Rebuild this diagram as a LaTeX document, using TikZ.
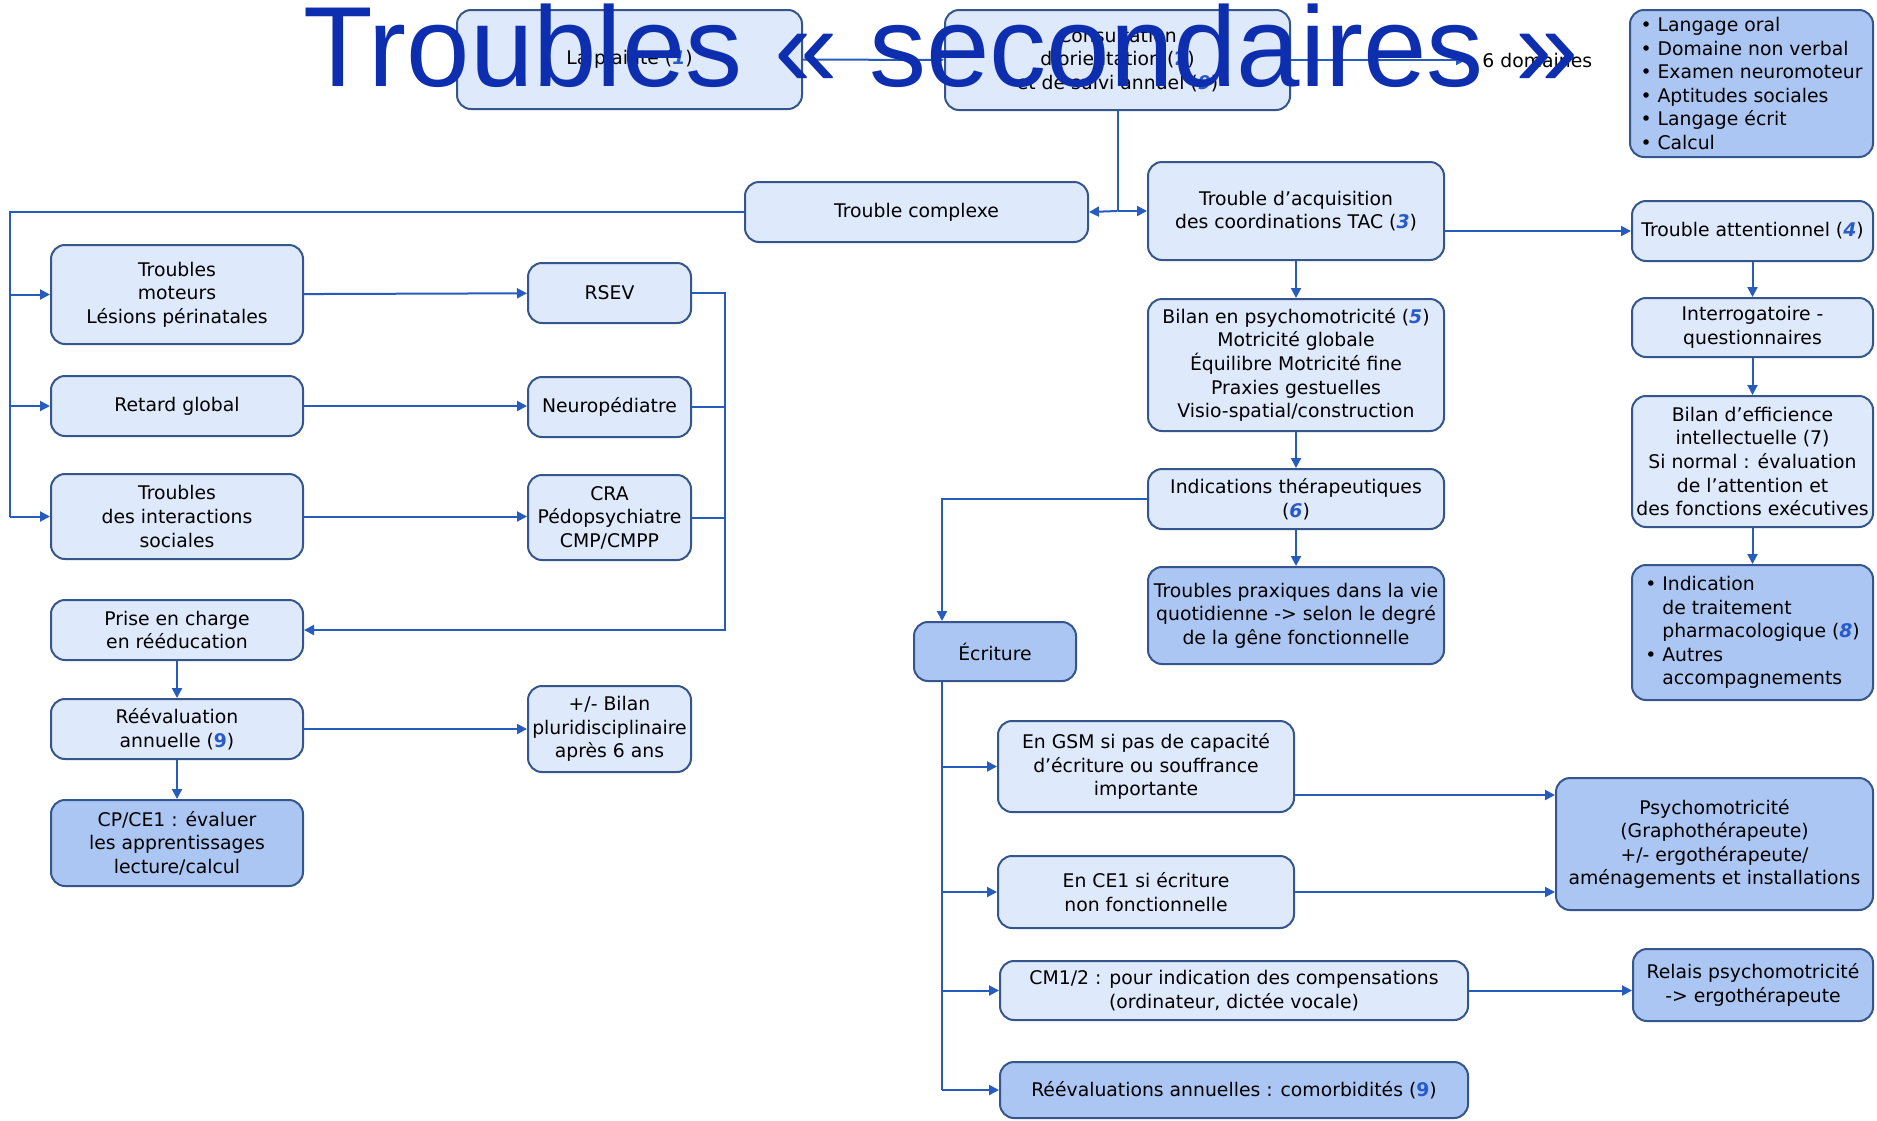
\documentclass[tikz,border=0pt]{standalone}
\usepackage{fontspec}
\setmainfont{DejaVu Sans}
\newfontfamily\titlefont{Liberation Sans}
\usetikzlibrary{arrows.meta}
\definecolor{boxline}{RGB}{52,86,140}
\definecolor{boxlight}{RGB}{222,233,251}
\definecolor{boxdark}{RGB}{171,198,243}
\definecolor{arrowblue}{RGB}{38,92,190}
\definecolor{numblue}{RGB}{40,90,200}
\definecolor{titleblue}{RGB}{14,46,176}
\newcommand{\nb}[1]{{\color{numblue}\bfseries\itshape #1}}
\newcommand{\nbu}[1]{{\color{numblue}\bfseries #1}}
\tikzset{wh/.style 2 args={minimum width=#1pt, minimum height=#2pt}}

\begin{document}
\begin{tikzpicture}[x=0.5pt,y=-0.5pt]
\tikzstyle{every node}+=[inner sep=2pt, font=\fontsize{9.4}{11.8}\selectfont]
\tikzstyle{box}=[draw=boxline, line width=1pt, fill=boxlight, rounded corners=7pt, align=center]
\tikzstyle{dbox}=[box, fill=boxdark]
\tikzstyle{lin}=[draw=arrowblue, line width=1pt]
\tikzstyle{arr}=[lin, -{Triangle[length=5pt,width=5pt]}]
\fill [white] (0,0) rectangle (1877,1120);
\useasboundingbox (0,0) rectangle (1877,1120);
\node [box, wh={172.5}{49.5}] (plainte) at (629.5,59.5) {La plainte (\nb{1})};
\node [box, wh={172.5}{50}] (consult) at (1117.5,60) {Consultation\\d’orientation (\nbu{2})\\et de suivi annuel (\nb{9})};
\node [anchor=west, inner xsep=8pt, inner ysep=0pt] (domaines) at (1466,60) {6 domaines};
\node [dbox, wh={121.5}{73.5}, align=left] (langage) at (1751.5,83.5) {• Langage oral\\• Domaine non verbal\\• Examen neuromoteur\\• Aptitudes sociales\\• Langage écrit\\• Calcul};
\node [box, wh={171.5}{30}] (complexe) at (916.5,212) {Trouble complexe};
\node [box, wh={148}{49}] (tac) at (1296,211) {Trouble d’acquisition\\des coordinations TAC (\nb{3})};
\node [box, wh={120.5}{30}] (attention) at (1752.5,231) {Trouble attentionnel (\nb{4})};
\node [box, wh={126}{49.5}] (moteurs) at (177,294.5) {Troubles\\moteurs\\Lésions périnatales};
\node [box, wh={126}{30}] (retard) at (177,406) {Retard global};
\node [box, wh={126}{42.5}] (interact) at (177,516.5) {Troubles\\des interactions\\sociales};
\node [box, wh={81.5}{30}] (rsev) at (609.5,293) {RSEV};
\node [box, wh={81.5}{30}] (neuro) at (609.5,407) {Neuropédiatre};
\node [box, wh={81.5}{42.5}] (cra) at (609.5,517.5) {CRA\\Pédopsychiatre\\CMP/CMPP};
\node [box, wh={126}{30}] (prise) at (177,630) {Prise en charge\\en rééducation};
\node [box, wh={126}{30}] (reeval) at (177,729) {Réévaluation\\annuelle (\nbu{9})};
\node [dbox, wh={126}{43}] (cpce) at (177,843) {CP/CE1 : évaluer\\les apprentissages\\lecture/calcul};
\node [box, wh={81.5}{43}] (pluri) at (609.5,729) {+/- Bilan\\pluridisciplinaire\\après 6 ans};
\node [box, wh={148}{66}] (bilanpsy) at (1296,365) {Bilan en psychomotricité (\nb{5})\\Motricité globale\\Équilibre Motricité fine\\Praxies gestuelles\\Visio-spatial/construction};
\node [box, wh={148}{30}] (indic) at (1296,499) {Indications thérapeutiques\\(\nb{6})};
\node [dbox, wh={148}{48.5}] (praxiques) at (1296,615.5) {Troubles praxiques dans la vie\\quotidienne -> selon le degré\\de la gêne fonctionnelle};
\node [box, wh={120.5}{29.5}] (interrog) at (1752.5,327.5) {Interrogatoire -\\questionnaires};
\node [box, wh={120.5}{65.5}] (efficience) at (1752.5,461.5) {Bilan d’efficience\\intellectuelle (7)\\Si normal : évaluation\\de l’attention et\\des fonctions exécutives};
\node [dbox, wh={120.5}{67.5}, align=left] (pharmaco) at (1752.5,632.5) {• Indication\\\phantom{• }de traitement\\\phantom{• }pharmacologique (\nb{8})\\• Autres\\\phantom{• }accompagnements};
\node [dbox, wh={81}{29.5}] (ecriture) at (995,651.5) {Écriture};
\node [box, wh={148}{45.5}] (gsm) at (1146,766.5) {En GSM si pas de capacité\\d’écriture ou souffrance\\importante};
\node [box, wh={148}{36}] (ce1) at (1146,892) {En CE1 si écriture\\non fonctionnelle};
\node [box, wh={234}{29.5}] (cm) at (1234,990.5) {CM1/2 : pour indication des compensations\\(ordinateur, dictée vocale)};
\node [dbox, wh={234}{28}] (reevals) at (1234,1090) {Réévaluations annuelles : comorbidités (\nbu{9})};
\node [dbox, wh={158.5}{66}] (psycho) at (1714.5,844) {Psychomotricité\\(Graphothérapeute)\\+/- ergothérapeute/\\aménagements et installations};
\node [dbox, wh={120}{36}] (relais) at (1753,985) {Relais psychomotricité\\-> ergothérapeute};
\coordinate (junc) at (consult.south |- tac.west);
\coordinate (ltrunk) at (10,212);
\coordinate (rtrunk) at (725,293);
\coordinate (ecol) at (942,499);
\coordinate (gsmout) at ([yshift=-14.25pt]gsm.east);
\draw [arr] (plainte) -- (consult);
\draw [arr] (consult) -- (domaines.west);
\draw [lin] (consult.south) -- (junc);
\draw [arr] (junc) -- (complexe.east);
\draw [arr] (junc) -- (tac.west);
\draw [lin] (complexe.west) -- (ltrunk) -- (ltrunk |- interact.west);
\draw [arr] (ltrunk |- moteurs.west) -- (moteurs.west);
\draw [arr] (ltrunk |- retard.west) -- (retard.west);
\draw [arr] (ltrunk |- interact.west) -- (interact.west);
\draw [arr] (moteurs) -- (rsev);
\draw [arr] (retard.east) -- (retard.east -| neuro.west);
\draw [arr] (interact.east) -- (interact.east -| cra.west);
\draw [arr] (rsev.east) -| (rtrunk |- prise.east) -- (prise.east);
\draw [lin] (neuro.east) -- (neuro.east -| rtrunk);
\draw [lin] (cra.east) -- (cra.east -| rtrunk);
\draw [arr] (prise) -- (reeval);
\draw [arr] (reeval) -- (cpce);
\draw [arr] (reeval) -- (pluri);
\draw [arr] (tac) -- (bilanpsy);
\draw [arr] (bilanpsy) -- (indic);
\draw [arr] (indic) -- (praxiques);
\draw [arr] (tac.east |- attention.west) -- (attention.west);
\draw [arr] (attention) -- (interrog);
\draw [arr] (interrog) -- (efficience);
\draw [arr] (efficience) -- (pharmaco);
\draw [arr] (indic.west) -- (ecol) -- (ecol |- ecriture.north);
\draw [lin] (ecol |- ecriture.south) -- (ecol |- reevals.west);
\draw [arr] (ecol |- gsm.west) -- (gsm.west);
\draw [arr] (ecol |- ce1.west) -- (ce1.west);
\draw [arr] (ecol |- cm.west) -- (cm.west);
\draw [arr] (ecol |- reevals.west) -- (reevals.west);
\draw [arr] (gsmout) -- (gsmout -| psycho.west);
\draw [arr] (ce1.east) -- (ce1.east -| psycho.west);
\draw [arr] (cm.east) -- (cm.east -| relais.west);
\node [anchor=base west, inner sep=0pt, text=titleblue, font=\titlefont\fontsize{57}{60}\selectfont] (titre) at (303,86) {Troubles « secondaires »};
\end{tikzpicture}
\end{document}
